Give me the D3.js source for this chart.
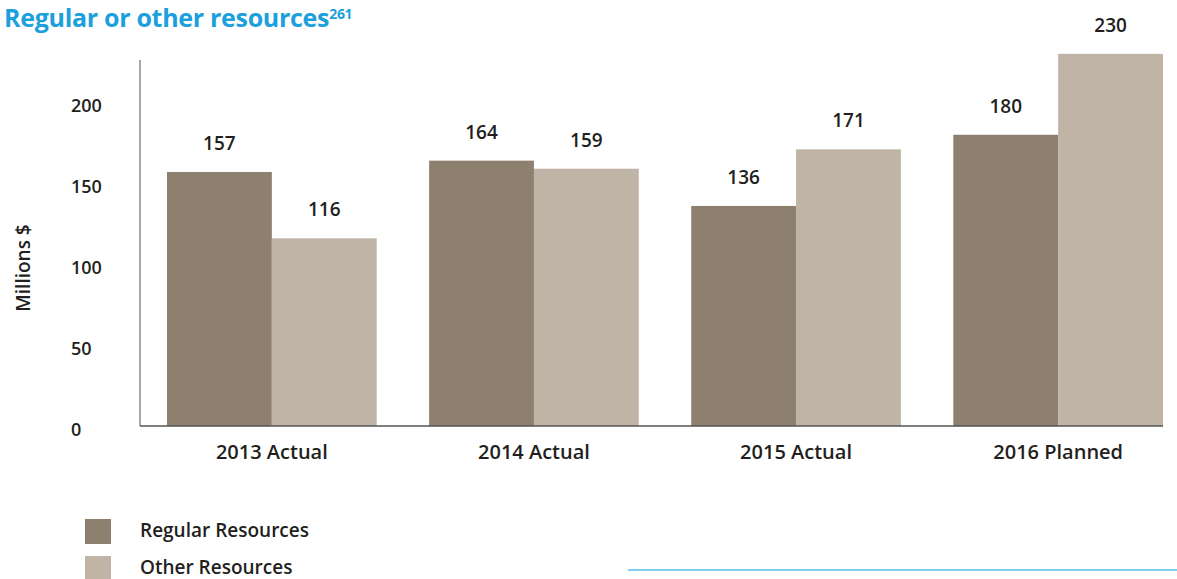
<!DOCTYPE html>
<html>
<head>
<meta charset="utf-8">
<script src="https://cdn.jsdelivr.net/npm/d3@7"></script>
<style>
  html, body { margin: 0; padding: 0; background: #fff; }
  svg { display: block; font-family: "Open Sans", "Noto Sans", sans-serif; }
</style>
</head>
<body>
<svg id="chart" width="1177" height="579"></svg>
<script>
// Data
const categories = ["2013 Actual", "2014 Actual", "2015 Actual", "2016 Planned"];
const seriesNames = ["Regular Resources", "Other Resources"];
const regularValues = [157, 164, 136, 180];
const otherValues = [116, 159, 171, 230];
const yTicks = [0, 50, 100, 150, 200];

const colors = { "Regular Resources": "#8e806f", "Other Resources": "#c0b4a7" };
const textColor = "#231f20";
const fontStack = "'Open Sans', 'Noto Sans', sans-serif";

const svg = d3.select("#chart");

// Layout
const axisX = 140, baseY = 426, topY = 60;

const x = d3.scaleBand()
    .domain(categories)
    .range([167, 1163])
    .paddingInner(0.2)
    .paddingOuter(0);

const xSeries = d3.scaleBand()
    .domain(seriesNames)
    .range([0, x.bandwidth()]);

const y = d3.scaleLinear()
    .domain([0, 250])
    .range([baseY, baseY - 250 * 1.618]);

const rows = categories.map((c, i) => ({
    category: c,
    values: [
        { series: seriesNames[0], value: regularValues[i] },
        { series: seriesNames[1], value: otherValues[i] }
    ]
}));

// Title
const title = svg.append("text")
    .attr("x", 4)
    .attr("y", 27)
    .attr("fill", "#1ca0dc")
    .attr("font-size", 25)
    .attr("font-weight", 700)
    .attr("letter-spacing", -0.3)
    .text("Regular or other resources");
title.append("tspan")
    .attr("font-size", 14)
    .attr("dy", -8)
    .text("261");

// Bars
const groups = svg.append("g").selectAll("g")
    .data(rows)
    .join("g")
    .attr("transform", d => `translate(${x(d.category)},0)`);

groups.selectAll("rect")
    .data(d => d.values)
    .join("rect")
    .attr("x", d => xSeries(d.series))
    .attr("y", d => y(d.value))
    .attr("width", xSeries.bandwidth())
    .attr("height", d => y(0) - y(d.value))
    .attr("fill", d => colors[d.series]);

// Value labels
groups.selectAll("text")
    .data(d => d.values)
    .join("text")
    .attr("x", d => xSeries(d.series) + xSeries.bandwidth() / 2)
    .attr("y", d => y(d.value) - 22)
    .attr("text-anchor", "middle")
    .attr("fill", textColor)
    .attr("font-size", 19)
    .attr("font-weight", 600)
    .text(d => d.value);

// Axis lines
svg.append("line")
    .attr("x1", axisX).attr("x2", axisX)
    .attr("y1", topY).attr("y2", baseY)
    .attr("stroke", "#8a8a8a")
    .attr("stroke-width", 1.5);

svg.append("line")
    .attr("x1", axisX).attr("x2", 1163)
    .attr("y1", baseY).attr("y2", baseY)
    .attr("stroke", "#555")
    .attr("stroke-width", 1.5);

// Y axis ticks
const yAxis = svg.append("g")
    .call(d3.axisLeft(y).tickValues(yTicks).tickSize(0))
    .attr("font-family", fontStack);
yAxis.select(".domain").remove();
yAxis.selectAll("text")
    .attr("x", 71)
    .attr("dy", "0.35em")
    .attr("transform", "translate(0,3)")
    .attr("text-anchor", "start")
    .attr("fill", textColor)
    .attr("font-size", 18)
    .attr("font-weight", 600);

// Y axis title
svg.append("text")
    .attr("transform", "translate(30,268) rotate(-90)")
    .attr("text-anchor", "middle")
    .attr("fill", textColor)
    .attr("font-size", 19)
    .attr("font-weight", 600)
    .text("Millions $");

// X axis labels
const xAxis = svg.append("g")
    .attr("transform", `translate(0,${baseY})`)
    .call(d3.axisBottom(x).tickSize(0))
    .attr("font-family", fontStack);
xAxis.select(".domain").remove();
xAxis.selectAll("text")
    .attr("y", 0)
    .attr("dy", 33)
    .attr("fill", textColor)
    .attr("font-size", 20)
    .attr("font-weight", 600);

// Legend
const legend = svg.append("g").selectAll("g")
    .data(seriesNames)
    .join("g")
    .attr("transform", (d, i) => `translate(85,${519 + i * 37})`);

legend.append("rect")
    .attr("width", 26)
    .attr("height", 25)
    .attr("fill", d => colors[d]);

legend.append("text")
    .attr("x", 55)
    .attr("y", 18)
    .attr("fill", textColor)
    .attr("font-size", 19)
    .attr("font-weight", 600)
    .text(d => d);

// Rule at the bottom right
svg.append("line")
    .attr("x1", 628).attr("x2", 1177)
    .attr("y1", 570).attr("y2", 570)
    .attr("stroke", "#7fcfec")
    .attr("stroke-width", 2);
</script>
</body>
</html>
